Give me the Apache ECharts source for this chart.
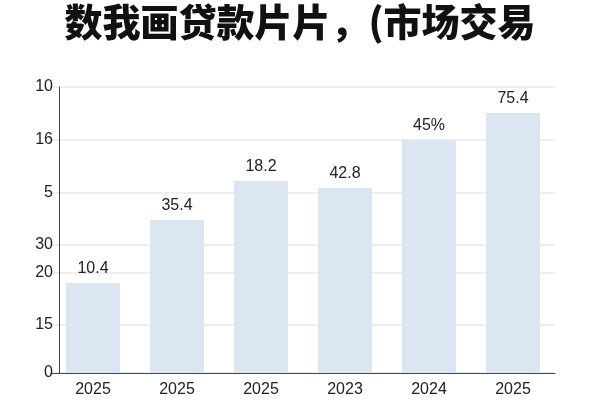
<!DOCTYPE html>
<html>
<head>
    <meta charset="UTF-8">
    <title>chart</title>
    <style type="text/css">
        html, body {
            margin: 0;
            padding: 0;
            background: #fff;
        }

        #main {
            width: 600px;
            height: 400px;
        }
    </style>
    <script type="text/javascript" src="https://cdn.jsdelivr.net/npm/echarts@6/dist/echarts.min.js"></script>
</head>
<body>
<div id="main"></div>
<script type="text/javascript">
    // 数据
    var categories = ['2025', '2025', '2025', '2023', '2024', '2025'];
    var barHeights = [90, 153, 192, 185, 233, 260];
    var barLabels = ['10.4', '35.4', '18.2', '42.8', '45%', '75.4'];
    var tickPos = [0, 48, 100, 128, 180, 233, 286];
    var tickLabels = ['0', '15', '20', '30', '5', '16', '10'];

    var myChart = echarts.init(document.getElementById('main'));
    var option = {
        animation: false,
        backgroundColor: '#fff',
        title: {
            text: '数我画贷款片片，(市场交易',
            left: 'center',
            top: -2,
            textStyle: {
                fontFamily: 'Noto Sans CJK SC',
                fontSize: 38,
                fontWeight: 900,
                color: '#111'
            }
        },
        grid: {
            left: 51,
            right: 45,
            top: 87,
            bottom: 27
        },
        xAxis: {
            type: 'category',
            data: categories,
            axisLine: {lineStyle: {color: '#444', width: 1}},
            axisTick: {show: false},
            axisLabel: {
                fontFamily: 'Liberation Sans',
                fontSize: 16,
                color: '#222',
                margin: 9
            }
        },
        yAxis: {
            type: 'value',
            min: 0,
            max: 286,
            offset: -8,
            axisLine: {show: true, lineStyle: {color: '#444', width: 1}},
            axisTick: {show: false, customValues: tickPos},
            axisLabel: {
                customValues: tickPos,
                fontFamily: 'Liberation Sans',
                fontSize: 16,
                color: '#222',
                margin: 6,
                formatter: function (val) {
                    var i = tickPos.indexOf(val);
                    return i < 0 ? '' : tickLabels[i];
                }
            },
            splitLine: {lineStyle: {color: '#e8e8e8', width: 1.5}}
        },
        series: [{
            type: 'bar',
            data: barHeights,
            barWidth: 54,
            itemStyle: {color: '#dbe6f2'},
            label: {
                show: true,
                position: 'top',
                distance: 6,
                fontFamily: 'Liberation Sans',
                fontSize: 16,
                color: '#222',
                formatter: function (p) {
                    return barLabels[p.dataIndex];
                }
            }
        }]
    };
    myChart.setOption(option);
</script>
</body>
</html>
